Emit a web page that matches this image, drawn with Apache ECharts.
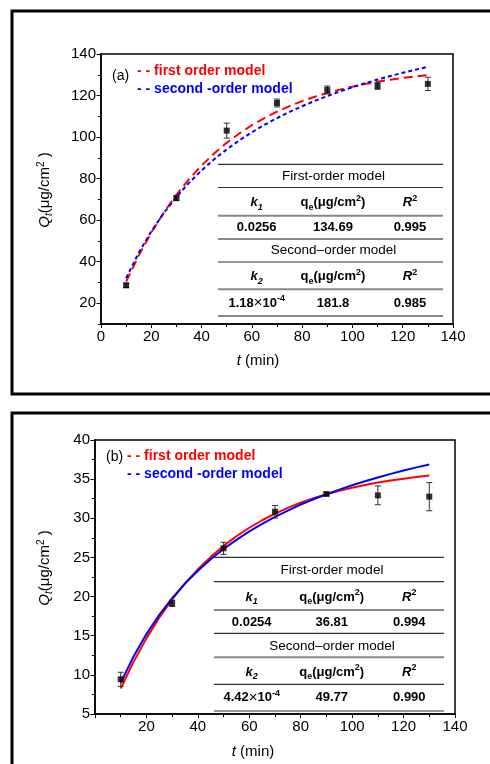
<!DOCTYPE html>
<html><head><meta charset="utf-8">
<script src="https://cdn.jsdelivr.net/npm/echarts@6/dist/echarts.min.js"></script>
<style>html,body{margin:0;padding:0;background:#fff}#c{width:490px;height:764px}</style>
</head><body><div id="c"></div>
<script>
// ---------- data ----------
const timesA = [10, 30, 50, 70, 90, 110, 130];
const measuredA = [28.6, 70.6, 103.1, 116.4, 122.7, 124.6, 125.6];
const errorA = [1.0, 1.0, 3.6, 1.9, 1.9, 1.6, 3.2];

const timesB = [10, 30, 50, 70, 90, 110, 130];
const measuredB = [9.43, 19.14, 26.17, 30.84, 33.1, 32.93, 32.76];
const errorB = [0.9, 0.4, 0.77, 0.8, 0.2, 1.2, 1.8];

const modelTimes = [10,15,20,25,30,35,40,45,50,55,60,65,70,75,80,85,90,95,100,105,110,115,120,125,130];
const firstOrderA = [30.43,42.95,53.97,63.67,72.19,79.71,86.31,92.13,97.25,101.74,105.70,109.18,112.25,114.94,117.32,119.40,121.24,122.85,124.28,125.53,126.63,127.59,128.45,129.20,129.86];
const secondOrderA = [32.11,44.26,54.58,63.47,71.19,77.96,83.96,89.30,94.09,98.40,102.31,105.88,109.13,112.11,114.86,117.41,119.76,121.95,123.99,125.90,127.69,129.37,130.94,132.42,133.82];
const firstOrderB = [8.26,11.66,14.66,17.30,19.63,21.68,23.48,25.07,26.47,27.71,28.79,29.75,30.59,31.33,31.99,32.56,33.07,33.51,33.91,34.25,34.56,34.83,35.06,35.27,35.46];
const secondOrderB = [8.97,12.35,15.21,17.66,19.79,21.65,23.30,24.76,26.07,27.25,28.32,29.29,30.18,30.99,31.74,32.43,33.07,33.66,34.22,34.73,35.22,35.67,36.10,36.50,36.88];

const xTicks = [0, 20, 40, 60, 80, 100, 120, 140];
const yTicksA = [20, 40, 60, 80, 100, 120, 140];
const yTicksB = [5, 10, 15, 20, 25, 30, 35, 40];

const legendLabels = ['first order model', 'second -order model'];
const tableTitles = ['First-order model', 'Second\u2013order model'];
const tableFirstA = ['0.0256', '134.69', '0.995'];
const tableSecondA = ['1.18', '-4', '181.8', '0.985'];
const tableFirstB = ['0.0254', '36.81', '0.994'];
const tableSecondB = ['4.42', '-4', '49.77', '0.990'];

// ---------- helpers ----------
const FONT = '"Liberation Sans", Arial, Helvetica, sans-serif';
const pair = (xs, ys) => xs.map((x, i) => [x, ys[i]]);
const triple = (xs, ys, es) => xs.map((x, i) => [x, ys[i], es[i]]);

function errRender(params, api) {
  const x = api.value(0), y = api.value(1), e = api.value(2);
  const top = api.coord([x, y + e]);
  const bot = api.coord([x, y - e]);
  const st = { stroke: '#333', lineWidth: 1 };
  return { type: 'group', children: [
    { type: 'line', shape: { x1: top[0], y1: top[1], x2: bot[0], y2: bot[1] }, style: st },
    { type: 'line', shape: { x1: top[0] - 3, y1: top[1], x2: top[0] + 3, y2: top[1] }, style: st },
    { type: 'line', shape: { x1: bot[0] - 3, y1: bot[1], x2: bot[0] + 3, y2: bot[1] }, style: st }
  ]};
}

function rt(x, y, text, rich, opts) {
  opts = opts || {};
  return {
    type: 'text', x: x, y: y, rotation: opts.rotation || 0, z: 100,
    style: {
      text: text, rich: rich || {}, x: 0, y: 0,
      fill: opts.fill || '#000',
      font: opts.font || ('13px ' + FONT),
      align: opts.align || 'center', verticalAlign: opts.va || 'middle',
      textAlign: opts.align || 'center', textVerticalAlign: opts.va || 'middle'
    }
  };
}
function hl(x1, x2, y, color, w) {
  return { type: 'line', z: 50, shape: { x1: x1, y1: y, x2: x2, y2: y }, style: { stroke: color, lineWidth: w } };
}

const tok = (size, extra) => Object.assign({ fontSize: size, fontFamily: FONT, fill: '#000', color: '#000', lineHeight: 18 }, extra || {});
const richAxis = {
  q: tok(15, { fontStyle: 'italic' }),
  s: tok(10, { fontStyle: 'italic', verticalAlign: 'bottom' }),
  n: tok(15),
  p: tok(10, { verticalAlign: 'top' })
};
const richTable = {
  ki: tok(13, { fontStyle: 'italic', fontWeight: 'bold' }),
  ks: tok(9, { fontStyle: 'italic', fontWeight: 'bold', verticalAlign: 'bottom' }),
  b: tok(13, { fontWeight: 'bold' }),
  bs: tok(9, { fontWeight: 'bold', verticalAlign: 'bottom' }),
  bp: tok(9, { fontWeight: 'bold', verticalAlign: 'top' }),
  x: tok(15, { fontWeight: 'normal' }),
  t: tok(13.5, { fontWeight: 'normal' })
};

function table(x1, x2, lines, rows, cols, first, second, dark, gray) {
  const g = [];
  lines.forEach((y, i) => g.push(hl(x1, x2, y, gray.indexOf(i) >= 0 ? '#888' : '#333', gray.indexOf(i) >= 0 ? 2 : 1.2)));
  g.push(rt((x1 + x2) / 2 + 3, rows[0], '{t|' + tableTitles[0] + '}', richTable));
  g.push(rt(cols[0], rows[1], '{ki|k}{ks|1}', richTable));
  g.push(rt(cols[1], rows[1], '{b|q}{bs|e}{b|(\u03bcg/cm}{bp|2}{b|)}', richTable));
  g.push(rt(cols[2], rows[1], '{ki|R}{bp|2}', richTable));
  g.push(rt(cols[0], rows[2], '{b|' + first[0] + '}', richTable));
  g.push(rt(cols[1], rows[2], '{b|' + first[1] + '}', richTable));
  g.push(rt(cols[2], rows[2], '{b|' + first[2] + '}', richTable));
  g.push(rt((x1 + x2) / 2 + 3, rows[3], '{t|' + tableTitles[1] + '}', richTable));
  g.push(rt(cols[0], rows[4], '{ki|k}{ks|2}', richTable));
  g.push(rt(cols[1], rows[4], '{b|q}{bs|e}{b|(\u03bcg/cm}{bp|2}{b|)}', richTable));
  g.push(rt(cols[2], rows[4], '{ki|R}{bp|2}', richTable));
  g.push(rt(cols[0], rows[5], '{b|' + second[0] + '}{x|\u00d7}{b|10}{bp|' + second[1] + '}', richTable));
  g.push(rt(cols[1], rows[5], '{b|' + second[2] + '}', richTable));
  g.push(rt(cols[2], rows[5], '{b|' + second[3] + '}', richTable));
  return g;
}

const graphics = [
  { type: 'rect', z: 0, shape: { x: 12, y: 11, width: 520, height: 383 }, style: { fill: 'none', stroke: '#000', lineWidth: 3 } },
  { type: 'rect', z: 0, shape: { x: 12, y: 413, width: 520, height: 400 }, style: { fill: 'none', stroke: '#000', lineWidth: 3 } },
  // legend a
  rt(112, 76, '(a)', null, { align: 'left', font: '14px ' + FONT }),
  rt(137, 71, '- - ' + legendLabels[0], null, { align: 'left', font: 'bold 14px ' + FONT, fill: '#ff0000' }),
  rt(137, 89, '- - ' + legendLabels[1], null, { align: 'left', font: 'bold 14px ' + FONT, fill: '#0000ff' }),
  // legend b
  rt(106, 457, '(b)', null, { align: 'left', font: '14px ' + FONT }),
  rt(127, 456, '- - ' + legendLabels[0], null, { align: 'left', font: 'bold 14px ' + FONT, fill: '#ff0000' }),
  rt(127, 474, '- - ' + legendLabels[1], null, { align: 'left', font: 'bold 14px ' + FONT, fill: '#0000ff' }),
  // axis names
  rt(45, 190, '{q|Q}{s|t}{n|(\u03bcg/cm}{p|2}{n| )}', richAxis, { rotation: Math.PI / 2 }),
  rt(45, 568, '{q|Q}{s|t}{n|(\u03bcg/cm}{p|2}{n| )}', richAxis, { rotation: Math.PI / 2 }),
  rt(258, 361, '{q|t}{n| (min)}', richAxis),
  rt(253, 752, '{q|t}{n| (min)}', richAxis)
].concat(
  table(218, 443, [164.3, 187.5, 215.7, 239, 262, 289.3, 316], [176, 202.7, 227.7, 250.7, 276.7, 303.3], [256.7, 333, 410], tableFirstA, tableSecondA, '#333', [2, 3, 5, 6]),
  table(214, 444, [557.3, 581.7, 610, 633.3, 657.3, 684.3, 711], [570, 597.3, 622.3, 646, 672, 697.7], [251.7, 331.7, 409.3], tableFirstB, tableSecondB, '#333', [2, 4])
);

const axisLine = { show: true, onZero: false, lineStyle: { color: '#000', width: 1.5 } };
const labelStyle = { color: '#000', fontSize: 15, fontFamily: FONT };

const option = {
  animation: false,
  backgroundColor: '#fff',
  grid: [
    { left: 101, top: 54, width: 352, height: 270, show: true, borderColor: '#000', borderWidth: 1.5, backgroundColor: 'transparent' },
    { left: 95, top: 440, width: 360, height: 274, show: true, borderColor: '#000', borderWidth: 1.5, backgroundColor: 'transparent' }
  ],
  xAxis: [
    { type: 'value', gridIndex: 0, min: xTicks[0], max: xTicks[xTicks.length - 1], interval: 20,
      axisLine: axisLine, splitLine: { show: false },
      axisTick: { show: true, inside: false, length: 4, lineStyle: { color: '#000' } },
      minorTick: { show: true, splitNumber: 2, length: 3, lineStyle: { color: '#000' } },
      axisLabel: Object.assign({ margin: 5 }, labelStyle) },
    { type: 'value', gridIndex: 1, min: xTicks[0], max: xTicks[xTicks.length - 1], interval: 20,
      axisLine: axisLine, splitLine: { show: false },
      axisTick: { show: true, inside: false, length: 4, lineStyle: { color: '#000' } },
      minorTick: { show: true, splitNumber: 2, length: 3, lineStyle: { color: '#000' } },
      axisLabel: Object.assign({ margin: 5, showMinLabel: false }, labelStyle) }
  ],
  yAxis: [
    { type: 'value', gridIndex: 0, min: 10, max: yTicksA[yTicksA.length - 1], interval: 10, position: 'left',
      axisLine: axisLine, splitLine: { show: false },
      axisTick: { show: true, inside: false, length: 3, lineStyle: { color: '#000' } },
      axisLabel: { show: false } },
    { type: 'value', gridIndex: 0, min: 10, max: yTicksA[yTicksA.length - 1], position: 'left', offset: 0,
      axisLine: { show: false }, splitLine: { show: false },
      axisTick: { show: true, inside: false, length: 4.5, customValues: yTicksA, lineStyle: { color: '#000' } },
      axisLabel: Object.assign({ margin: 5, customValues: yTicksA }, labelStyle) },
    { type: 'value', gridIndex: 1, min: yTicksB[0], max: yTicksB[yTicksB.length - 1], interval: 5, position: 'left',
      axisLine: axisLine, splitLine: { show: false },
      axisTick: { show: true, inside: false, length: 4.5, lineStyle: { color: '#000' } },
      minorTick: { show: true, splitNumber: 2, length: 3, lineStyle: { color: '#000' } },
      axisLabel: Object.assign({ margin: 5 }, labelStyle) }
  ],
  series: [
    { type: 'line', xAxisIndex: 0, yAxisIndex: 0, data: pair(modelTimes, firstOrderA), showSymbol: false, z: 3,
      lineStyle: { color: '#ff0000', width: 2, type: [9, 5] } },
    { type: 'line', xAxisIndex: 0, yAxisIndex: 0, data: pair(modelTimes, secondOrderA), showSymbol: false, z: 4,
      lineStyle: { color: '#0000ff', width: 2, type: [4, 3] } },
    { type: 'custom', xAxisIndex: 0, yAxisIndex: 0, data: triple(timesA, measuredA, errorA), renderItem: errRender, z: 5 },
    { type: 'scatter', xAxisIndex: 0, yAxisIndex: 0, data: pair(timesA, measuredA), symbol: 'rect', symbolSize: 6,
      itemStyle: { color: '#000' }, z: 6 },
    { type: 'line', xAxisIndex: 1, yAxisIndex: 2, data: pair(modelTimes, firstOrderB), showSymbol: false, z: 3,
      lineStyle: { color: '#ff0000', width: 2 } },
    { type: 'line', xAxisIndex: 1, yAxisIndex: 2, data: pair(modelTimes, secondOrderB), showSymbol: false, z: 4,
      lineStyle: { color: '#0000ff', width: 2 } },
    { type: 'custom', xAxisIndex: 1, yAxisIndex: 2, data: triple(timesB, measuredB, errorB), renderItem: errRender, z: 5 },
    { type: 'scatter', xAxisIndex: 1, yAxisIndex: 2, data: pair(timesB, measuredB), symbol: 'rect', symbolSize: 6,
      itemStyle: { color: '#000' }, z: 6 }
  ],
  graphic: { elements: graphics }
};

const chart = echarts.init(document.getElementById('c'), null, { renderer: 'canvas' });
chart.setOption(option);
</script>
</body></html>
